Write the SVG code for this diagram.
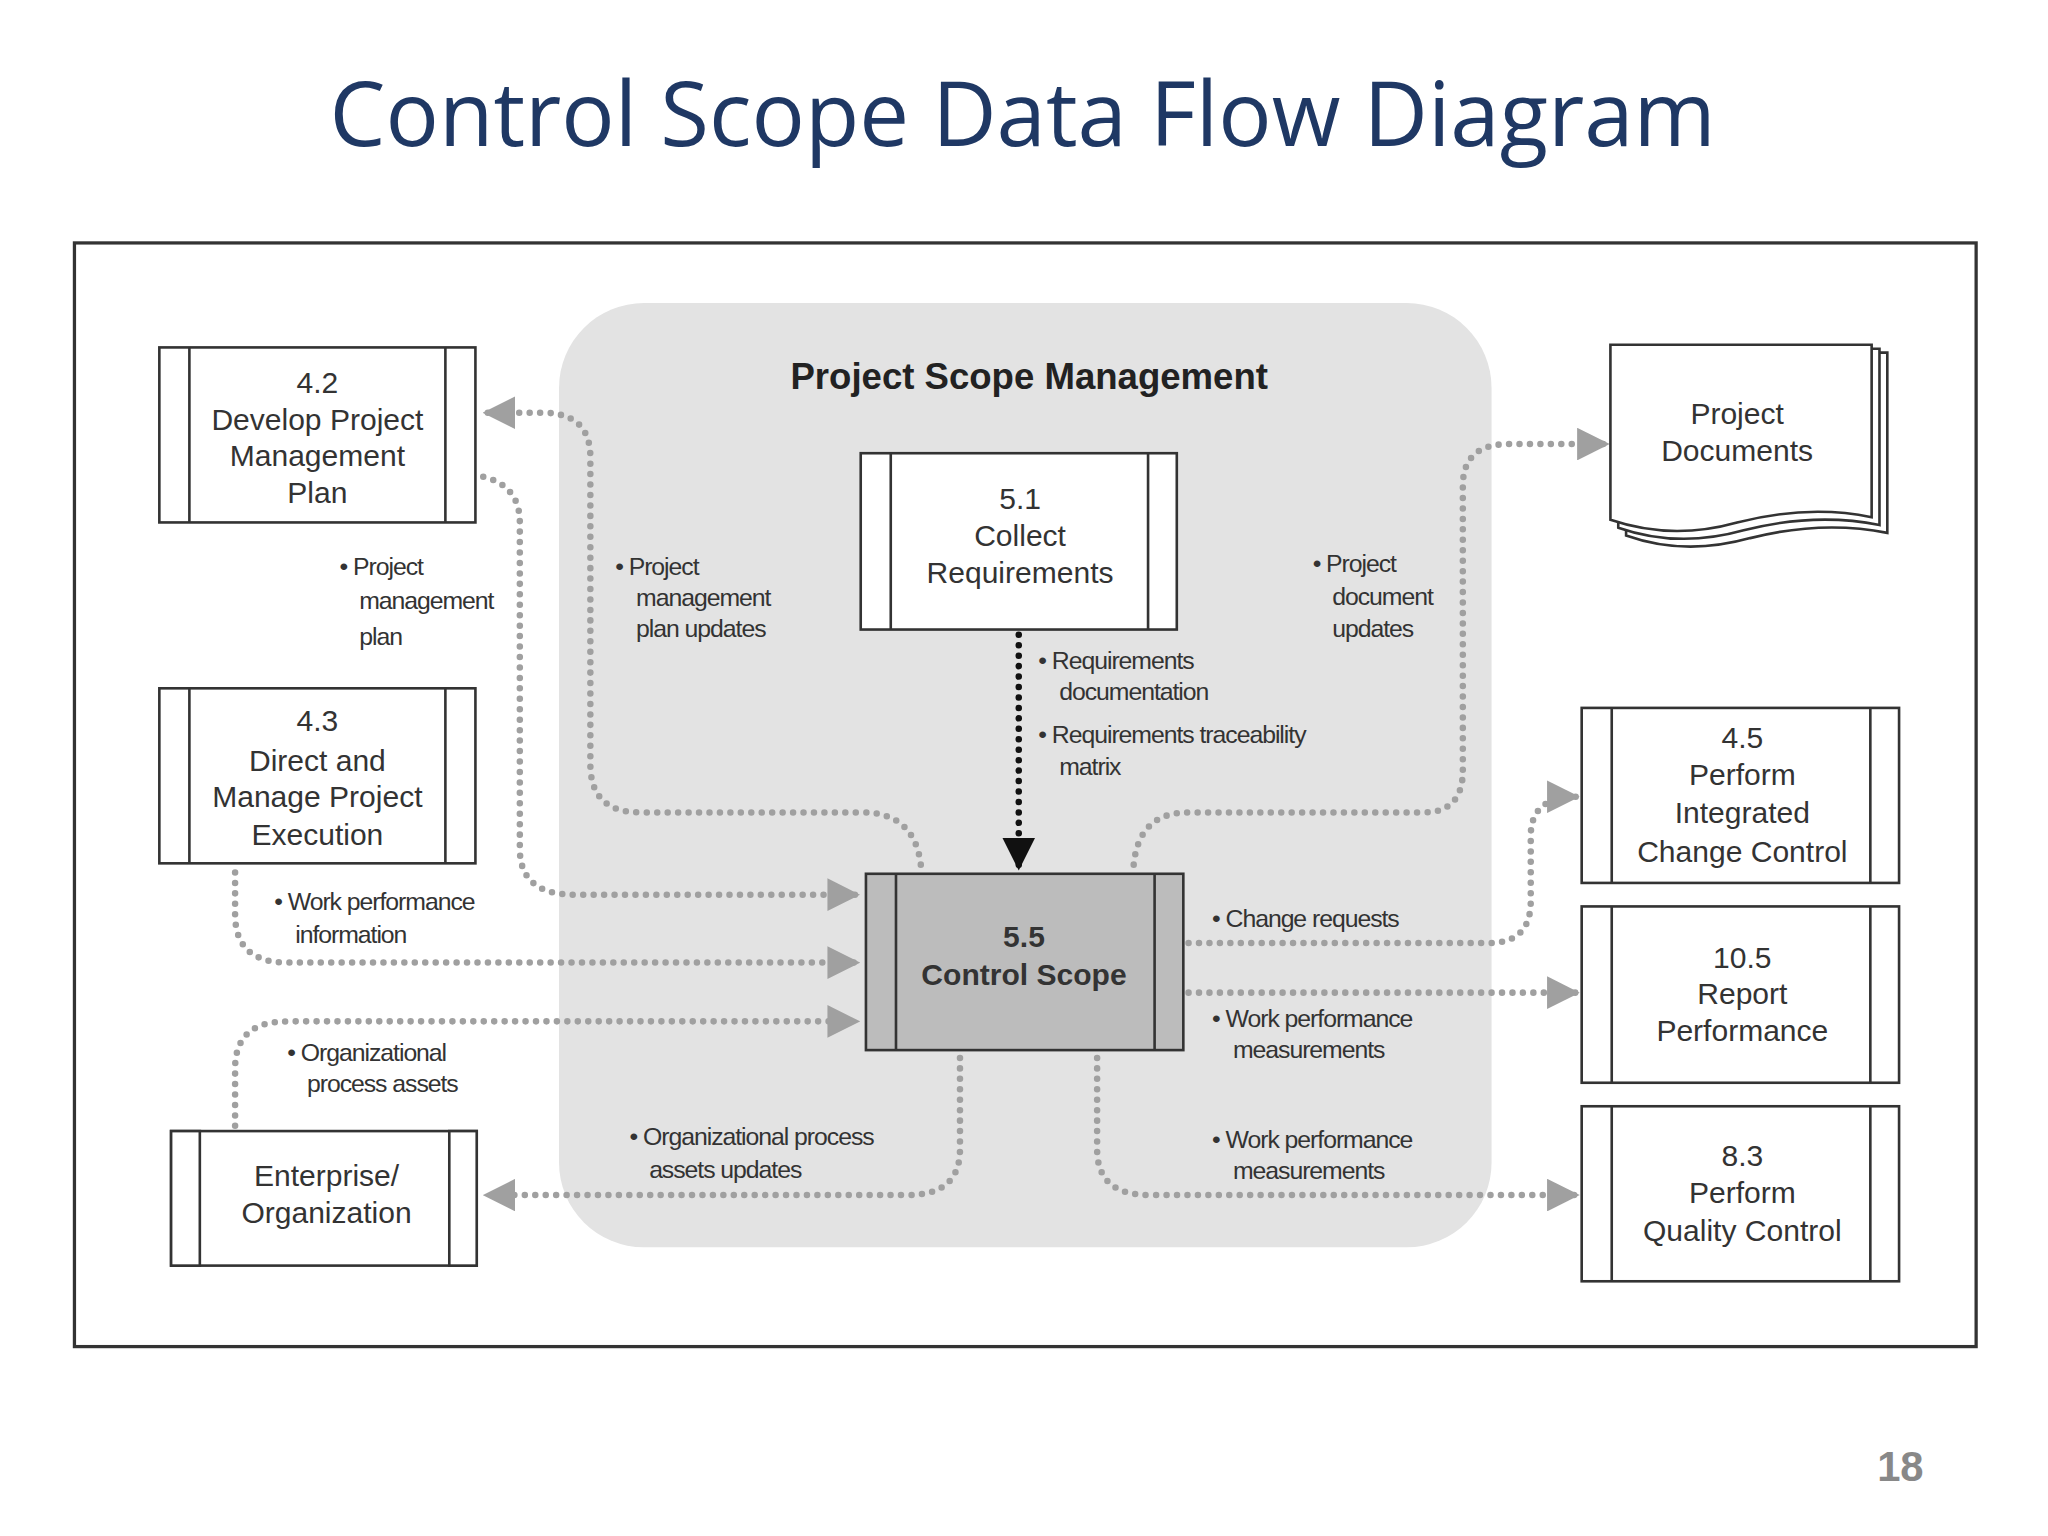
<svg xmlns="http://www.w3.org/2000/svg" width="2048" height="1536" viewBox="0 0 2048 1536">
<defs>
<marker id="ag" viewBox="0 0 10 10" refX="9" refY="5" markerWidth="5" markerHeight="5" orient="auto" markerUnits="strokeWidth"><path d="M0,0L10,5L0,10z" fill="#a0a0a0"/></marker>
<marker id="ab" viewBox="0 0 10 10" refX="9" refY="5" markerWidth="5" markerHeight="5" orient="auto" markerUnits="strokeWidth"><path d="M0,0L10,5L0,10z" fill="#111"/></marker>
<style>
.box{fill:#fff;stroke:#333;stroke-width:2}
.ln{stroke:#333;stroke-width:2}
.nt{font-family:"Liberation Sans",Arial,sans-serif;font-size:23px;fill:#333;text-anchor:middle}
.lb{font-family:"Liberation Sans",Arial,sans-serif;font-size:19px;fill:#333;letter-spacing:-0.8px}
.c{fill:none;stroke:#a0a0a0;stroke-width:5;stroke-dasharray:0 8;stroke-linecap:round;marker-end:url(#ag)}
</style>
</defs>
<rect width="2048" height="1536" fill="#fff"/>
<g transform="scale(1.3061)">
<text x="783" y="112" font-family="Open Sans,Liberation Sans,sans-serif" font-size="68" fill="#1f3864" text-anchor="middle">Control Scope Data Flow Diagram</text>
<rect x="57" y="186" width="1456" height="845" fill="#fff" stroke="#333" stroke-width="2.5"/>
<rect x="428" y="232" width="714" height="723" rx="65" fill="#e3e3e3"/>
<text x="788" y="298" font-family="Liberation Sans,Arial,sans-serif" font-size="28" font-weight="bold" fill="#222" text-anchor="middle">Project Scope Management</text>

<g id="connectors">
<path class="c" d="M705,662 Q700,622 660,622 L490,622 Q452,622 452,585 L452,350 Q452,316 415,316 L372,316"/>
<path class="c" d="M370,365 Q398,372 398,400 L398,650 Q398,685 440,685 L656,685"/>
<path class="c" d="M180,668 L180,700 Q180,737 220,737 L656,737"/>
<path class="c" d="M180,862 L180,818 Q180,782 220,782 L656,782"/>
<path class="c" d="M735,810 L735,880 Q735,915 695,915 L372,915"/>
<path class="c" d="M840,810 L840,880 Q840,915 880,915 L1207,915"/>
<path class="c" d="M910,760 L1207,760"/>
<path class="c" d="M910,722 L1140,722 Q1172,722 1172,690 L1172,640 Q1172,610 1207,610"/>
<path class="c" d="M868,662 Q872,622 910,622 L1090,622 Q1120,622 1120,590 L1120,372 Q1120,340 1155,340 L1230,340"/>
<path d="M780,486 L780,664" fill="none" stroke="#111" stroke-width="5" stroke-dasharray="0 8" stroke-linecap="round" marker-end="url(#ab)"/>
</g>

<g id="n42"><rect class="box" x="122" y="266" width="242" height="134"/><line class="ln" x1="145" y1="266" x2="145" y2="400"/><line class="ln" x1="341" y1="266" x2="341" y2="400"/>
<text class="nt" x="243" y="301">4.2</text><text class="nt" x="243" y="329">Develop Project</text><text class="nt" x="243" y="357">Management</text><text class="nt" x="243" y="385">Plan</text></g>
<g id="n43"><rect class="box" x="122" y="527" width="242" height="134"/><line class="ln" x1="145" y1="527" x2="145" y2="661"/><line class="ln" x1="341" y1="527" x2="341" y2="661"/>
<text class="nt" x="243" y="560">4.3</text><text class="nt" x="243" y="590">Direct and</text><text class="nt" x="243" y="618">Manage Project</text><text class="nt" x="243" y="647">Execution</text></g>
<g id="nEnt"><rect class="box" x="131" y="866" width="234" height="103"/><rect class="box" x="131" y="866" width="22" height="103"/><rect class="box" x="344" y="866" width="21" height="103"/>
<text class="nt" x="250" y="908">Enterprise/</text><text class="nt" x="250" y="936">Organization</text></g>
<g id="n51"><rect class="box" x="659" y="347" width="242" height="135"/><line class="ln" x1="682" y1="347" x2="682" y2="482"/><line class="ln" x1="879" y1="347" x2="879" y2="482"/>
<text class="nt" x="781" y="390">5.1</text><text class="nt" x="781" y="418">Collect</text><text class="nt" x="781" y="446">Requirements</text></g>
<g id="n55"><rect x="663" y="669" width="243" height="135" fill="#bcbcbc" stroke="#333" stroke-width="2"/><line class="ln" x1="686" y1="669" x2="686" y2="804"/><line class="ln" x1="884" y1="669" x2="884" y2="804"/>
<text class="nt" x="784" y="725" font-weight="bold" fill="#111">5.5</text><text class="nt" x="784" y="754" font-weight="bold" fill="#111">Control Scope</text></g>
<g id="nDocs">
<path d="M1245,270 L1445,270 L1445,408 Q1395,398 1340,412 Q1290,426 1245,410 Z" class="box"/>
<path d="M1239,267 L1439,267 L1439,402 Q1390,392 1335,406 Q1285,420 1239,404 Z" class="box"/>
<path d="M1233,264 L1433,264 L1433,396 Q1385,386 1330,400 Q1280,414 1233,398 Z" class="box"/>
<text class="nt" x="1330" y="325">Project</text><text class="nt" x="1330" y="353">Documents</text></g>
<g id="n45"><rect class="box" x="1211" y="542" width="243" height="134"/><line class="ln" x1="1234" y1="542" x2="1234" y2="676"/><line class="ln" x1="1432" y1="542" x2="1432" y2="676"/>
<text class="nt" x="1334" y="573">4.5</text><text class="nt" x="1334" y="601">Perform</text><text class="nt" x="1334" y="630">Integrated</text><text class="nt" x="1334" y="660">Change Control</text></g>
<g id="n105"><rect class="box" x="1211" y="694" width="243" height="135"/><line class="ln" x1="1234" y1="694" x2="1234" y2="829"/><line class="ln" x1="1432" y1="694" x2="1432" y2="829"/>
<text class="nt" x="1334" y="741">10.5</text><text class="nt" x="1334" y="769">Report</text><text class="nt" x="1334" y="797">Performance</text></g>
<g id="n83"><rect class="box" x="1211" y="847" width="243" height="134"/><line class="ln" x1="1234" y1="847" x2="1234" y2="981"/><line class="ln" x1="1432" y1="847" x2="1432" y2="981"/>
<text class="nt" x="1334" y="893">8.3</text><text class="nt" x="1334" y="921">Perform</text><text class="nt" x="1334" y="950">Quality Control</text></g>

<g id="labels">
<text class="lb" x="260" y="440">• Project</text><text class="lb" x="275" y="466">management</text><text class="lb" x="275" y="494">plan</text>
<text class="lb" x="471" y="440">• Project</text><text class="lb" x="487" y="464">management</text><text class="lb" x="487" y="488">plan updates</text>
<text class="lb" x="1005" y="438">• Project</text><text class="lb" x="1020" y="463">document</text><text class="lb" x="1020" y="488">updates</text>
<text class="lb" x="795" y="512">• Requirements</text><text class="lb" x="811" y="536">documentation</text>
<text class="lb" x="795" y="569">• Requirements traceability</text><text class="lb" x="811" y="593">matrix</text>
<text class="lb" x="210" y="697">• Work performance</text><text class="lb" x="226" y="722">information</text>
<text class="lb" x="220" y="812">• Organizational</text><text class="lb" x="235" y="836">process assets</text>
<text class="lb" x="482" y="877">• Organizational process</text><text class="lb" x="497" y="902">assets updates</text>
<text class="lb" x="928" y="710">• Change requests</text>
<text class="lb" x="928" y="786">• Work performance</text><text class="lb" x="944" y="810">measurements</text>
<text class="lb" x="928" y="879">• Work performance</text><text class="lb" x="944" y="903">measurements</text>
</g>
<text x="1455" y="1134" font-family="Liberation Sans,Arial,sans-serif" font-size="32" font-weight="bold" fill="#888" text-anchor="middle">18</text>
</g>
</svg>
